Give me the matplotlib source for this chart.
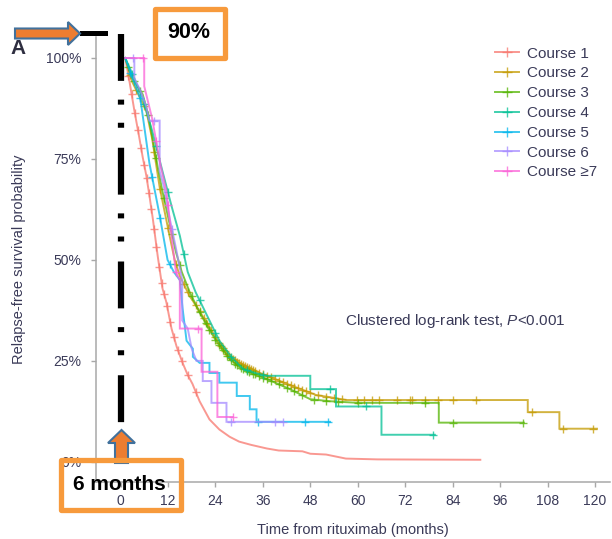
import numpy as np
import matplotlib
matplotlib.use('Agg')
import matplotlib.pyplot as plt
from matplotlib.lines import Line2D
from matplotlib.patches import Polygon, Rectangle

plt.rcParams['font.family'] = ['Liberation Sans', 'DejaVu Sans']
plt.rcParams['mathtext.fontset'] = 'custom'
plt.rcParams['mathtext.it'] = 'Liberation Sans:italic'
plt.rcParams['mathtext.rm'] = 'Liberation Sans'

# Kaplan-Meier curves (months, survival %)
labels = ['Course 1', 'Course 2', 'Course 3', 'Course 4', 'Course 5', 'Course 6', 'Course \u22657']
colors = ['#F8766D', '#C49A00', '#53B400', '#00C094', '#00B6EB', '#A58AFF', '#FB61D7']

t1 = [1.2, 2.3, 3.5, 4.8, 5.6, 6.5, 7.3, 8.2, 9.4, 10.6, 11.6, 12.9, 14.2, 15.7, 17, 18.2, 20, 22.5, 25, 27.6, 30, 33, 37, 40, 46, 48, 52, 57, 65, 91]
s1 = [100, 94, 87, 80, 75.5, 71, 66, 60, 51, 43, 39.5, 33, 28.5, 24.5, 21.5, 19.3, 15, 10.5, 8, 6.2, 5, 4.2, 3.3, 2.8, 2.6, 2, 1.8, 0.8, 0.6, 0.5]
c1 = [2, 2.8, 3.6, 4.4, 5.2, 6, 6.6, 7.2, 7.8, 8.5, 9.1, 9.8, 10.4, 11, 11.8, 12.6, 13.5, 14.5, 15.5, 17, 19]

t2 = [1.2, 3, 5, 6.5, 8, 9.9, 12.4, 13.7, 15, 17.5, 18.2, 21.8, 24.3, 27.6, 30, 32.7, 37, 42.8, 49.6, 53, 57, 103, 103, 111, 111, 120.5]
s2 = [100, 94, 90, 87, 80, 68, 56, 50, 46, 41, 40, 34.5, 30.4, 26, 24.5, 23, 21.3, 19, 16.5, 16, 15.3, 15.3, 12.3, 12.3, 8.2, 8.2]
c2 = [2.5, 4, 6, 8.5, 10, 12, 14, 16, 17, 19, 20, 21, 22, 23, 24, 25, 25.5, 26, 26.5, 27, 27.5, 28, 28.5, 29, 29.5, 30,
      30.5, 31, 31.5, 32, 32.5, 33, 33.5, 34, 35, 36, 37, 38, 39, 40, 41, 42, 43, 44, 45, 46, 47, 48, 50, 52, 54, 56,
      59.7, 61.7, 63.7, 65.5, 69.9, 73.2, 73.7, 77, 80.3, 84, 90, 104, 112, 119.5]

t3 = [1.2, 3, 5.6, 7, 9.4, 10.6, 12.4, 14, 15.5, 17.5, 20, 22, 24.3, 27.6, 30, 33, 37, 42.8, 48, 53, 60, 80.5, 80.5, 102]
s3 = [100, 95, 91, 86, 73, 67, 59, 52, 47, 42, 37, 33.5, 29.8, 25.5, 23.5, 22, 20.5, 18, 15.5, 15, 14.6, 14.6, 9.7, 9.7]
c3 = [2, 3.5, 5, 7, 9, 11, 13, 15, 18, 20, 21.5, 22.5, 24, 25, 26, 27, 28, 29, 29.5, 30.5, 31, 32, 32.5, 33.5, 34, 35,
      36, 37, 38, 40, 42, 44, 46, 49, 52, 55, 60, 77, 84, 101.7]

t4 = [1.2, 3, 5.6, 8, 10.6, 13, 15, 17, 19, 22, 25, 28, 31, 34, 37, 48, 48, 54.5, 54.5, 66, 66, 79.5]
s4 = [100, 96, 90, 82, 72, 63, 56, 47, 42, 36, 30, 26, 23, 22, 21.3, 21.3, 18, 18, 13.7, 13.7, 6.7, 6.7]
c4 = [3, 6, 9, 12, 16, 20, 24, 28, 32, 36, 53, 62, 79]

t5 = [1.2, 3, 5, 7.3, 9.9, 11.9, 13.5, 15, 15.7, 16.7, 18.3, 18.3, 20, 22.5, 22.5, 25, 25, 29.4, 29.4, 32.7, 32.7, 34.4, 34.4, 53]
s5 = [100, 95, 90, 74, 61, 50, 47, 45, 38, 30, 28, 26, 24.5, 24.5, 22, 22, 19.6, 19.6, 16.3, 16.3, 13, 13, 9.9, 9.9]
c5 = [2.5, 5, 8, 10, 12.5, 34.8, 46.6, 52.5]

t6 = [1.2, 3.5, 3.5, 5, 6.5, 7.3, 9.9, 9.9, 11, 12.5, 14, 15.2, 15.6, 15.6, 17, 18, 19.2, 20.8, 20.8, 23, 23, 26.8, 26.8, 41]
s6 = [100, 100, 95, 92, 88, 84.5, 84.5, 72, 68, 60, 53, 47, 45, 35, 33, 28, 25, 25, 20, 20, 14.6, 14.6, 9.9, 9.9]
c6 = [3.2, 8.5, 13, 28, 39, 41]

t7 = [1.2, 6, 6, 8, 10, 11.6, 13, 14, 15, 15, 20.5, 20.5, 24.5, 24.5, 28.4]
s7 = [100, 100, 93, 85, 74, 67, 55, 47, 45, 33, 33, 22.3, 22.3, 11.1, 11.1]
c7 = [5.6, 9, 12, 14, 19.5, 28.4]

times = [t1, t2, t3, t4, t5, t6, t7]
survs = [s1, s2, s3, s4, s5, s6, s7]
cens = [c1, c2, c3, c4, c5, c6, c7]

xticks = [0, 12, 24, 36, 48, 60, 72, 84, 96, 108, 120]
yticks = [0, 25, 50, 75, 100]
ytick_labels = ['0%', '25%', '50%', '75%', '100%']

W, H = 612, 539
fig = plt.figure(figsize=(W / 100, H / 100), dpi=100)
ax = fig.add_axes([96 / W, 1 - 482 / H, (610 - 96) / W, (482 - 37) / H])

txt = '#3a3a58'
for t, s, c, col, lab in zip(times, survs, cens, colors, labels):
    ax.plot(t, s, color=col, lw=1.4, alpha=0.75, solid_joinstyle='miter')
    cy = np.interp(c, t, s)
    ax.plot(c, cy, ls='none', marker='+', ms=6, mew=1.0, color=col, alpha=0.75)

ax.set_xlim(-6.2, 123.8)
ax.set_ylim(-5, 105.2)
ax.set_xticks(xticks)
ax.set_yticks(yticks)
ax.set_yticklabels(ytick_labels)
for sp in ['top', 'right']:
    ax.spines[sp].set_visible(False)
for sp in ['left', 'bottom']:
    ax.spines[sp].set_color('#a8a8a8')
    ax.spines[sp].set_linewidth(1.1)
ax.tick_params(axis='both', colors='#a8a8a8', labelcolor=txt, labelsize=10, length=3.5, width=1)
ax.tick_params(axis='y', pad=7)
ax.tick_params(axis='x', pad=5)
ax.set_xlabel('Time from rituximab (months)', fontsize=10.5, color=txt, labelpad=11)
ax.set_ylabel('Relapse-free survival probability', fontsize=10.5, color=txt, labelpad=14)

ax.text(56.8, 34.9, r'Clustered log-rank test, $\mathit{P}$<0.001', fontsize=11, color=txt, va='center', ha='left')

handles = [Line2D([], [], color=col, marker='+', ms=7, mew=1.0, lw=1.4, alpha=0.75) for col in colors]
fig.legend(handles, labels, loc='upper left', bbox_to_anchor=(487 / W, 1 - 39 / H), frameon=False,
           fontsize=11, handlelength=1.6, handletextpad=0.5, labelspacing=0.38, borderpad=0, labelcolor=txt)

# vertical dash-dot marker at month 0
ax.plot([0, 0], [(462 - 34) / 4.04, (462 - 423) / 4.04], color='black', lw=4.5, solid_capstyle='butt',
        dash_capstyle='butt', dashes=(7.5, 3.0, 0.8, 2.9, 0.8, 3.2), clip_on=False)

# overlay in figure pixels for the slide annotations
ov = fig.add_axes([0, 0, 1, 1], facecolor='none')
ov.set_xlim(0, W)
ov.set_ylim(H, 0)
ov.axis('off')

orange = '#ED7D31'
edge = '#41719C'
box = '#F79A3C'
ov.add_patch(Rectangle((80, 31), 28, 5, color='black', lw=0))
ov.add_patch(Polygon([(15, 28.5), (68, 28.5), (68, 22), (80, 33.5), (68, 45), (68, 38.5), (15, 38.5)],
                     closed=True, facecolor=orange, edgecolor=edge, lw=1.5))
ov.add_patch(Polygon([(115, 463), (115, 443), (108, 443), (121.5, 430), (135, 443), (128, 443), (128, 463)],
                     closed=True, facecolor=orange, edgecolor=edge, lw=1.5))
ov.add_patch(Rectangle((154.5, 8.5), 70, 49, fill=False, edgecolor=box, lw=3.8, joinstyle='round'))
ov.add_patch(Rectangle((60.5, 459.5), 120, 50, fill=False, edgecolor=box, lw=3.8, joinstyle='round'))
ov.text(189, 33, '90%', fontsize=15.5, fontweight='bold', color='black', ha='center', va='center')
ov.text(119, 484, '6 months', fontsize=15, fontweight='bold', color='black', ha='center', va='center')
ov.text(10, 49, 'A', fontsize=15, fontweight='bold', color='#2e2e40', ha='left', va='center')

fig.savefig('out.png', dpi=100)
